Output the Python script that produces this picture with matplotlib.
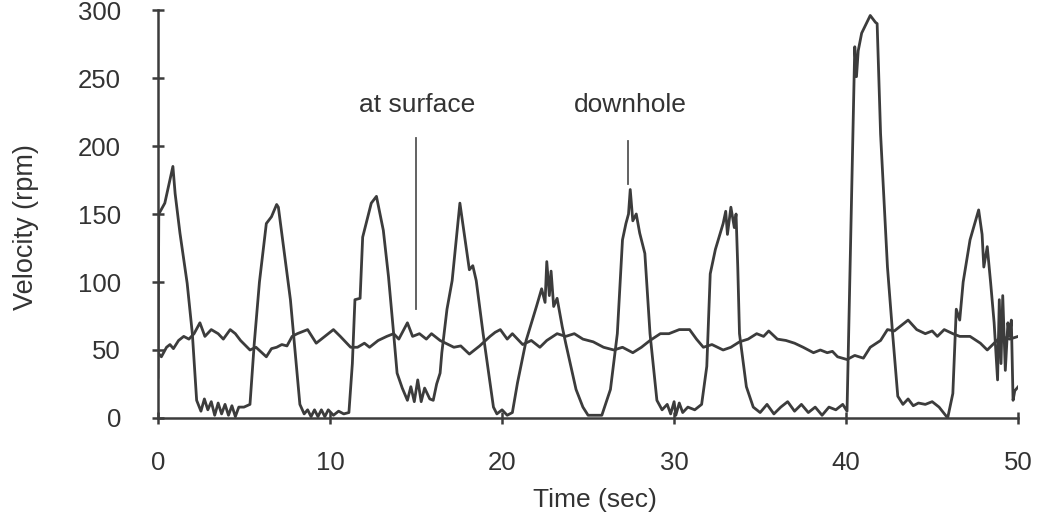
import matplotlib
matplotlib.use("Agg")
import matplotlib.pyplot as plt

plt.rcParams['font.family'] = ['Liberation Sans', 'DejaVu Sans']

# --- Data ---
# downhole velocity (stick-slip)
t_down = [0.0, 0.05, 0.4, 0.87, 1.0, 1.28, 1.7, 2.0, 2.25, 2.5, 2.7, 2.9, 3.1, 3.3, 3.5,
          3.7, 3.9, 4.1, 4.3, 4.5, 4.7, 5.0, 5.35, 5.6, 5.9, 6.3, 6.6, 6.9, 7.0, 7.3,
          7.7, 8.0, 8.25, 8.5, 8.7, 8.9, 9.1, 9.3, 9.5, 9.7, 9.9, 10.2, 10.5, 10.8, 11.1,
          11.3, 11.45, 11.75, 11.9, 12.4, 12.7, 13.1, 13.4, 13.7, 13.9, 14.2, 14.5, 14.7,
          14.9, 15.1, 15.3, 15.5, 15.8, 16.0, 16.2, 16.4, 16.5, 16.8, 17.1, 17.55, 18.1,
          18.3, 18.5, 18.9, 19.5, 19.7, 20.0, 20.3, 20.6, 20.9, 21.4, 22.0, 22.3, 22.5,
          22.6, 22.75, 22.85, 23.0, 23.2, 23.5, 23.7, 24.0, 24.3, 24.7, 25.0, 25.8, 26.3,
          26.7, 27.0, 27.2, 27.35, 27.45, 27.6, 27.8, 28.0, 28.3, 28.6, 29.0, 29.3, 29.6,
          29.8, 30.0, 30.1, 30.3, 30.5, 30.8, 31.2, 31.6, 31.9, 32.1, 32.4, 32.85, 33.0,
          33.1, 33.3, 33.5, 33.6, 33.7, 33.8, 34.2, 34.6, 35.0, 35.4, 35.8, 36.2, 36.6,
          37.0, 37.4, 37.8, 38.2, 38.6, 39.0, 39.4, 39.8, 40.05, 40.5, 40.6, 40.7, 40.9,
          41.4, 41.7, 41.8, 42.0, 42.4, 42.7, 43.0, 43.3, 43.6, 43.9, 44.2, 44.6, 45.0,
          45.4, 45.9, 46.2, 46.4, 46.6, 46.8, 47.2, 47.7, 47.9, 48.0, 48.2, 48.4, 48.6,
          48.8, 48.9, 49.0, 49.1, 49.25, 49.4, 49.5, 49.6, 49.7, 49.8, 50.0]
v_down = [30, 150, 158, 185, 165, 136, 99, 62, 13, 5, 14, 6, 12, 2, 11,
          3, 10, 2, 9, 1, 8, 8, 10, 55, 100, 143, 148, 157, 155, 126,
          87, 45, 10, 3, 6, 1, 6, 1, 6, 1, 6, 2, 5, 3, 4,
          40, 87, 88, 133, 158, 163, 138, 104, 62, 33, 22, 13, 23,
          12, 28, 12, 22, 14, 13, 25, 33, 48, 80, 101, 158, 109,
          112, 101, 62, 8, 3, 6, 2, 4, 26, 57, 82, 95, 85,
          115, 90, 108, 82, 88, 67, 55, 38, 21, 8, 2, 2, 21,
          62, 131, 143, 150, 168, 145, 150, 136, 121, 62, 13, 6, 10,
          3, 12, 2, 11, 4, 8, 6, 10, 38, 106, 124, 143, 152,
          135, 155, 140, 150, 111, 62, 23, 8, 4, 10, 3, 8, 12,
          5, 10, 4, 8, 2, 8, 6, 10, 5, 273, 251, 270, 283,
          296, 291, 290, 209, 111, 62, 16, 10, 14, 9, 11, 10, 12,
          8, 0, 18, 80, 72, 100, 131, 153, 135, 111, 126, 99, 70,
          28, 87, 40, 90, 35, 70, 60, 72, 13, 20, 23]

# surface velocity
t_surf = [0.0, 0.2, 0.5, 0.7, 0.9, 1.2, 1.5, 1.8, 2.1, 2.44, 2.73, 3.1, 3.5, 3.8, 4.2,
          4.5, 4.8, 5.35, 5.7, 6.3, 6.6, 6.9, 7.2, 7.5, 7.8, 8.1, 8.7, 9.2, 9.7, 10.2,
          10.6, 11.2, 11.6, 12.0, 12.3, 12.8, 13.3, 13.7, 14.0, 14.5, 14.8, 15.2, 15.6,
          15.9, 16.4, 17.2, 17.6, 18.1, 18.7, 19.3, 19.6, 19.9, 20.3, 20.6, 21.2, 21.7,
          22.2, 22.6, 23.2, 23.7, 24.2, 24.7, 25.3, 25.9, 26.5, 27.0, 27.6, 28.1, 28.6,
          29.2, 29.7, 30.3, 30.9, 31.3, 31.7, 32.2, 32.85, 33.3, 33.8, 34.3, 34.8, 35.2,
          35.5, 36.0, 36.5, 37.0, 37.5, 37.8, 38.1, 38.5, 38.9, 39.2, 39.5, 40.05, 40.5,
          41.0, 41.4, 42.0, 42.4, 42.8, 43.1, 43.6, 44.1, 44.6, 45.0, 45.3, 45.7, 46.2,
          46.6, 47.2, 47.8, 48.2, 48.6, 49.0, 49.5, 50.0]
v_surf = [48, 45, 52, 54, 51, 57, 60, 58, 62, 70, 60, 65, 62, 58, 65,
          62, 57, 50, 52, 45, 51, 52, 54, 53, 60, 62, 65, 55, 60, 65,
          60, 52, 52, 55, 52, 57, 60, 62, 58, 70, 60, 62, 58,
          62, 57, 52, 53, 47, 53, 60, 63, 65, 58, 62, 54, 57,
          52, 57, 62, 60, 62, 58, 56, 52, 50, 52, 48, 52, 57,
          62, 62, 65, 65, 58, 52, 54, 50, 52, 56, 58, 62, 60,
          64, 58, 57, 55, 52, 50, 48, 50, 48, 49, 45, 43, 46,
          44, 52, 57, 65, 64, 67, 72, 65, 62, 64, 60, 65, 62,
          60, 60, 55, 50, 55, 60, 58, 60]

x_ticks = [0, 10, 20, 30, 40, 50]
y_ticks = [0, 50, 100, 150, 200, 250, 300]

# annotation positions (time, rpm)
surf_label = ("at surface", 15.05, 230)
surf_line = (15.0, 80, 206)
down_label = ("downhole", 27.45, 230)
down_line = (27.3, 172, 204)

# --- Figure ---
ink = "#3c3c3c"
fig = plt.figure(figsize=(10.39, 5.23), dpi=100)
ax = fig.add_axes([0.152, 0.2008, 0.828, 0.780])

ax.plot(t_surf, v_surf, color=ink, lw=2.0)
ax.plot(t_down, v_down, color=ink, lw=2.0)

ax.set_xlim(0, 50)
ax.set_ylim(0, 300)
ax.set_xticks(x_ticks)
ax.set_yticks(y_ticks)

for side in ["top", "right"]:
    ax.spines[side].set_visible(False)
for side in ["left", "bottom"]:
    ax.spines[side].set_color(ink)
    ax.spines[side].set_linewidth(1.8)

ax.tick_params(axis="both", direction="inout", length=9, width=1.8, color=ink,
               labelsize=18.5, labelcolor="#333333")
ax.tick_params(axis="y", pad=22)
ax.tick_params(axis="x", pad=19)

ax.set_xlabel("Time (sec)", fontsize=19, color="#333333", va="center")
ax.xaxis.set_label_coords(0.508, -0.201)
ax.set_ylabel("Velocity (rpm)", fontsize=19.5, color="#333333", va="center")
ax.yaxis.set_label_coords(-0.153, 0.468)

for text, x, y in [surf_label, down_label]:
    ax.text(x, y, text, ha="center", va="center", fontsize=19, color="#333333")
for x, y0, y1 in [surf_line, down_line]:
    ax.plot([x, x], [y0, y1], color="#555555", lw=1.3)

fig.savefig("out.png", dpi=100, facecolor="white")
